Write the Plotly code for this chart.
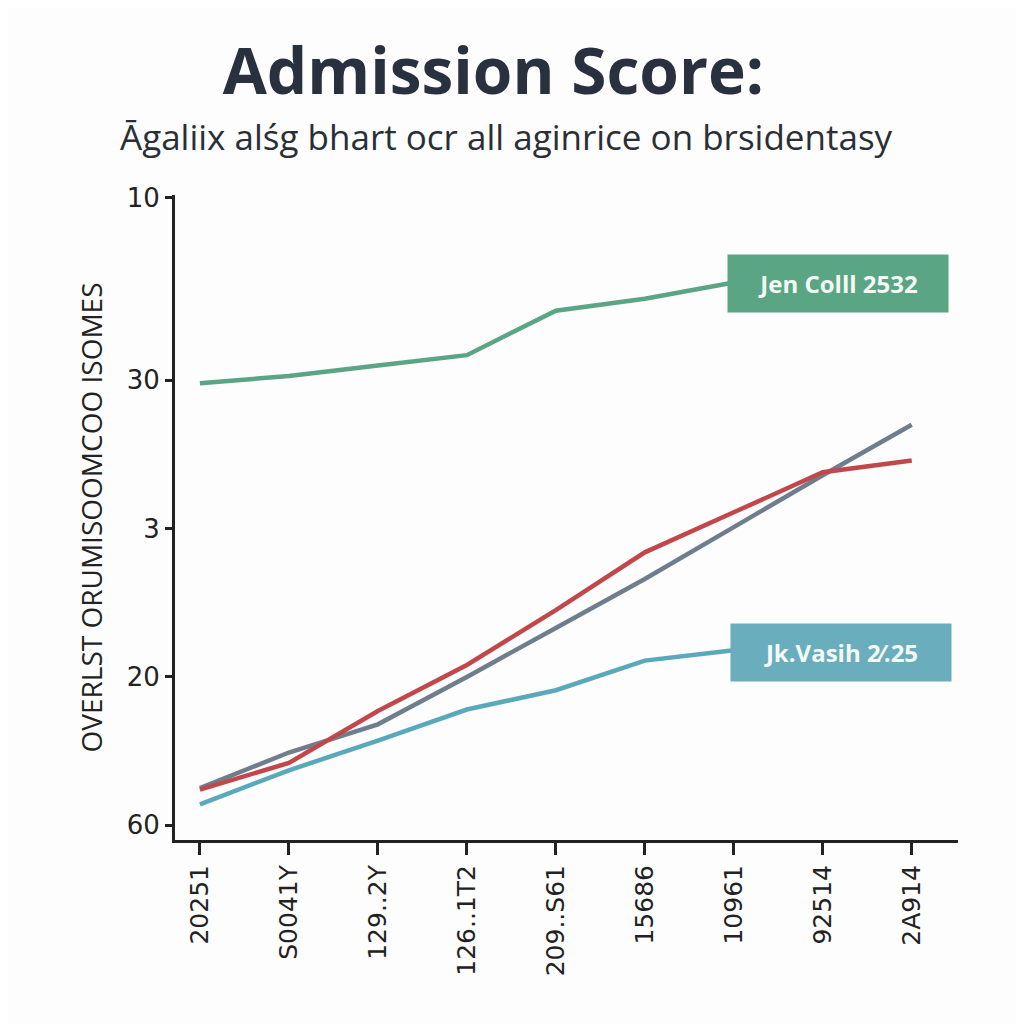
import plotly.graph_objects as go

x_pos = list(range(9))
x_labels = ["20251", "S0041Y", "129..2Y", "126..1T2", "209..S61", "15686", "10961", "92514", "2A914"]

y_tickvals = [0, 1, 2, 3, 4.23]
y_ticktext = ["60", "20", "3", "30", "10"]

green = [2.98, 3.03, 3.10, 3.17, 3.47, 3.55, 3.66]
red = [0.24, 0.42, 0.77, 1.08, 1.45, 1.84, 2.11, 2.38, 2.46]
gray = [0.25, 0.49, 0.68, 1.00, 1.33, 1.66, 2.01, 2.36, 2.70]
blue = [0.14, 0.37, 0.57, 0.78, 0.91, 1.11, 1.18]

label_green = "Jen Colll 2532"
label_blue = "Jk.Vasih 2\u2044.25"
title_text = "Admission Score:"
subtitle_text = "\u0100galiix als\u0301g bhart ocr all aginrice on brsidentasy"
y_title = "OVERLST ORUMISOOMCOO ISOMES"

fig = go.Figure()
fig.add_trace(go.Scatter(x=x_pos[:7], y=green, mode="lines", line=dict(color="#5aa585", width=4.5)))
fig.add_trace(go.Scatter(x=x_pos, y=gray, mode="lines", line=dict(color="#6f7e8d", width=4.5)))
fig.add_trace(go.Scatter(x=x_pos, y=red, mode="lines", line=dict(color="#c2474b", width=4.5)))
fig.add_trace(go.Scatter(x=x_pos[:7], y=blue, mode="lines", line=dict(color="#5aa9bb", width=4.5)))

fig.add_annotation(x=7.17, y=3.65, xref="x", yref="y", text="<b>" + label_green + "</b>",
                   showarrow=False, bgcolor="#5aa584", font=dict(color="#f4faf6", size=24, family="Open Sans"),
                   width=212, height=49, borderpad=4)
fig.add_annotation(x=7.21, y=1.165, xref="x", yref="y", text="<b>" + label_blue + "</b>",
                   showarrow=False, bgcolor="#6aaebe", font=dict(color="#f4faf6", size=24, family="Open Sans"),
                   width=212, height=49, borderpad=4)
fig.add_annotation(x=0.423, y=1.09, xref="paper", yref="paper", xanchor="center", yanchor="middle",
                   text=subtitle_text, showarrow=False,
                   font=dict(size=35, color="#2a2f36", family="Open Sans"))

fig.update_layout(
    width=1024, height=1024,
    margin=dict(l=167, r=74, t=187, b=192),
    paper_bgcolor="#fdfdfd", plot_bgcolor="#fdfdfd",
    showlegend=False,
    title=dict(text="<b>" + title_text + "</b>", x=0.474, xanchor="center", y=0.938, yanchor="middle",
               font=dict(size=64, color="#28313d", family="Open Sans")),
    xaxis=dict(range=[-0.28, 8.52], tickmode="array", tickvals=x_pos, ticktext=x_labels,
               tickangle=-90, showgrid=False, zeroline=False, showline=True, linecolor="#222",
               linewidth=3, ticks="outside", ticklen=12, tickwidth=2.5, tickcolor="#222",
               tickfont=dict(size=25, color="#222", family="DejaVu Sans")),
    yaxis=dict(range=[-0.1, 4.25], tickmode="array", tickvals=y_tickvals, ticktext=y_ticktext,
               showgrid=False, zeroline=False, showline=True, linecolor="#222", linewidth=3,
               ticks="outside", ticklen=7, tickwidth=2.5, tickcolor="#222",
               tickfont=dict(size=26, color="#222", family="DejaVu Sans"),
               title=dict(text=y_title, standoff=16,
                          font=dict(size=28, color="#222", family="Open Sans"))),
)
fig.write_html("out.html")
